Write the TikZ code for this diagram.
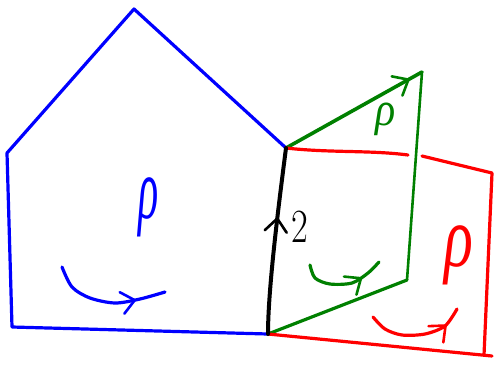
\documentclass[tikz,border=0pt]{standalone}
\usepackage{fontspec}
\newfontfamily\grkfont{Liberation Serif}
\usetikzlibrary{decorations.markings}
\definecolor{hblue}{RGB}{0,0,255}
\definecolor{hgreen}{RGB}{0,128,0}
\definecolor{hred}{RGB}{255,0,0}
\tikzset{
  pen/.style={line width=3.2pt,line cap=round,line join=round},
  midarrow/.style={postaction={decorate},decoration={markings,
     mark=at position #1 with {\draw[line width=2.6pt,line cap=round,line join=round,solid] (-13pt,11pt) -- (0pt,0pt) -- (-13pt,-11pt);}}},
  rhotext/.style={inner sep=0pt,font=\grkfont\itshape\fontsize{30}{30}\selectfont}
}
\begin{document}
\begin{tikzpicture}[x=1pt,y=-1pt]
\useasboundingbox (0,0) rectangle (494,365);
% vertices
\coordinate (bl) at (12,327);
\coordinate (tl) at (7,153);
\coordinate (apex) at (134,9);
\coordinate (A) at (286,148);
\coordinate (B) at (268,334);
\coordinate (gtr) at (422,72);
\coordinate (gbr) at (407,280);
\coordinate (rtm) at (408,155);
\coordinate (rtl) at (422,156);
\coordinate (rtr) at (492,173);
\coordinate (rbr) at (484,355);
\coordinate (rbe) at (492,356);
% blue pentagon
\draw[pen,hblue] (B) -- (bl) -- (tl) -- (apex) -- (A);
% green parallelogram
\draw[pen,hgreen,line width=3.6pt,midarrow=0.9] (A) -- (gtr);
\draw[pen,hgreen,line width=2.6pt] (gtr) -- (gbr);
\draw[pen,hgreen] (gbr) -- (B);
% red quadrilateral
\draw[pen,hred] (A) .. controls (330,153) and (370,150) .. (rtm);
\draw[pen,hred] (rtl) -- (rtr) -- (rbr);
\draw[pen,hred] (B) -- (rbe);
% black shared edge
\draw[pen,black,line width=4pt,midarrow=0.62] (B) .. controls (268,290) and (278,210) .. (A);
\node[font=\fontsize{28}{28}\selectfont,inner sep=0pt] (two) at (300,227) {\scalebox{1.3}[1.7]{2}};
% rho labels
\node[rhotext,text=hblue] (rb) at (149,207) {\scalebox{1.4}[2.9]{ρ}};
\node[rhotext,text=hgreen] (rg) at (386,119) {\scalebox{1.4}[1.6]{ρ}};
\node[rhotext,text=hred] (rr) at (459,255) {\scalebox{2.0}[2.9]{ρ}};
% orientation arcs
\draw[pen,hblue,midarrow=0.74] plot[smooth] coordinates {(62,267) (72,287) (90,298) (115,303) (140,299) (165,292)};
\draw[pen,hgreen,midarrow=0.72] plot[smooth] coordinates {(310,265) (315,278) (330,284) (352,283) (368,273) (379,262)};
\draw[pen,hred,midarrow=0.8] plot[smooth] coordinates {(373,317) (385,329) (402,335) (425,334) (445,326) (457,309)};
\end{tikzpicture}
\end{document}
